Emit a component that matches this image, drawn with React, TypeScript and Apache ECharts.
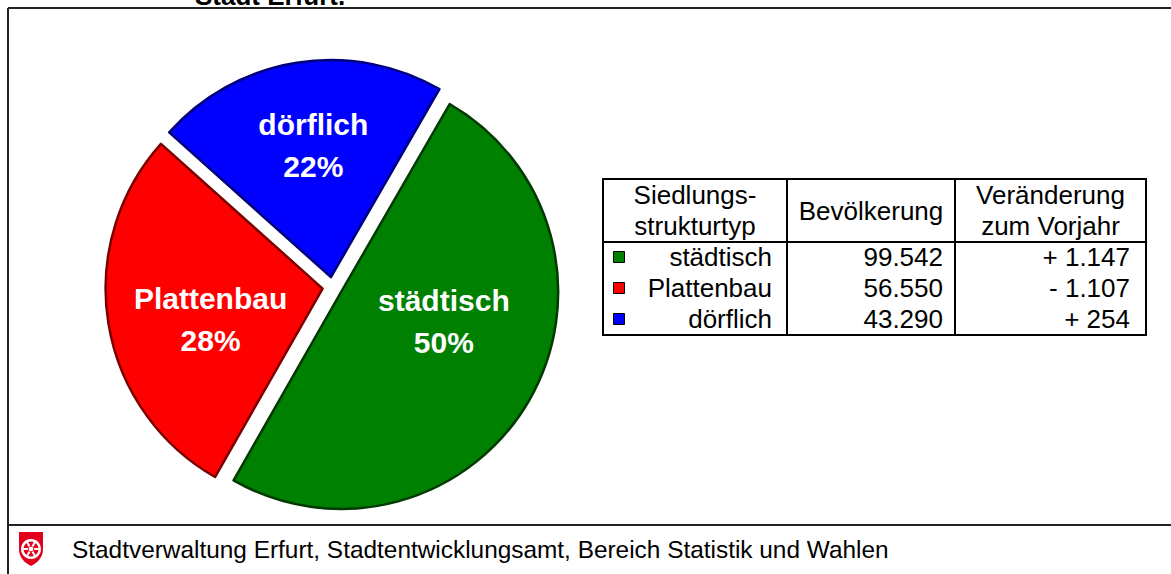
import React, { useEffect, useRef } from 'react';
import * as echarts from 'echarts';

const categories = ['städtisch', 'Plattenbau', 'dörflich'];
const population = [99542, 56550, 43290];
const changeVsPrevYear = [1147, -1107, 254];
const sliceColors = ['#008000', '#ff0000', '#0000ff'];
const borderColors = ['#003a00', '#7a0000', '#00007a'];
const labelOffsets = [[6, -26], [-2, 13], [0, -22]];
const headerCol1 = ['Siedlungs-', 'strukturtyp'];
const headerCol2 = ['Bevölkerung'];
const headerCol3 = ['Veränderung', 'zum Vorjahr'];
const titleText = 'Stadt Erfurt.';
const sourceText = 'Stadtverwaltung Erfurt, Stadtentwicklungsamt, Bereich Statistik und Wahlen';

const FONT = '"Liberation Sans", Arial, Helvetica, sans-serif';

const fmtThousands = (n: number) =>
  Math.abs(n).toString().replace(/\B(?=(\d{3})+(?!\d))/g, '.');
const fmtChange = (n: number) => (n >= 0 ? '+ ' : '- ') + fmtThousands(n);

echarts.graphic.registerShape(
  'erfurtShield',
  echarts.graphic.extendPath('M0 0 H24 V17 C24 26 18 31 12 34 C6 31 0 26 0 17 Z', {})
);

export default function App() {
  const ref = useRef<HTMLDivElement>(null);

  useEffect(() => {
    if (!ref.current) return;
    const chart = echarts.init(ref.current, undefined, { renderer: 'svg' });

    // table layout
    const colX = [603, 787, 955, 1146];
    const tTop = 179;
    const tHead = 242;
    const tBottom = 335;
    const rowY = [257, 288, 319];
    const lineColor = '#000';
    const tableFont = 26;

    const g: any[] = [];
    const txt = (text: string, x: number, y: number, align: string, size: number, weight = 'normal', fill = '#000') => ({
      type: 'text',
      x,
      y,
      silent: true,
      style: {
        text,
        fill,
        fontSize: size,
        fontWeight: weight,
        fontFamily: FONT,
        align,
        verticalAlign: 'middle',
      },
    });
    const ln = (x1: number, y1: number, x2: number, y2: number, w = 2, c = lineColor) => ({
      type: 'line',
      silent: true,
      shape: { x1, y1, x2, y2 },
      style: { stroke: c, lineWidth: w },
    });

    // frame
    g.push(ln(8, 8, 1171, 8, 2, '#222'));
    g.push(ln(8, 8, 8, 574, 2, '#222'));
    g.push(ln(8, 525, 1171, 525, 2, '#222'));

    // title (cut off at top, as in the original)
    g.push(txt(titleText, 195, -4, 'left', 26, 'bold'));

    // table borders
    g.push({
      type: 'rect',
      silent: true,
      shape: { x: colX[0], y: tTop, width: colX[3] - colX[0], height: tBottom - tTop },
      style: { fill: '#fff', stroke: lineColor, lineWidth: 2 },
    });
    g.push(ln(colX[1], tTop, colX[1], tBottom));
    g.push(ln(colX[2], tTop, colX[2], tBottom));
    g.push(ln(colX[0], tHead, colX[3], tHead));

    // headers
    const headers = [headerCol1, headerCol2, headerCol3];
    headers.forEach((lines, ci) => {
      const cx = (colX[ci] + colX[ci + 1]) / 2;
      const mid = (tTop + tHead) / 2;
      lines.forEach((l, li) => {
        const y = mid + (li - (lines.length - 1) / 2) * 31;
        g.push(txt(l, cx, y, 'center', tableFont));
      });
    });

    // rows
    categories.forEach((cat, i) => {
      const y = rowY[i];
      g.push({
        type: 'rect',
        silent: true,
        shape: { x: 613.5, y: y - 5.5, width: 11, height: 11 },
        style: { fill: sliceColors[i], stroke: '#000', lineWidth: 1 },
      });
      g.push(txt(cat, colX[1] - 15, y, 'right', tableFont));
      g.push(txt(fmtThousands(population[i]), colX[2] - 12, y, 'right', tableFont));
      g.push(txt(fmtChange(changeVsPrevYear[i]), colX[3] - 16, y, 'right', tableFont));
    });

    // footer logo
    g.push({
      type: 'erfurtShield',
      x: 19,
      y: 532,
      silent: true,
      style: { fill: '#e2001a' },
    });
    g.push({
      type: 'ring',
      silent: true,
      shape: { cx: 31, cy: 549, r: 10, r0: 7.5 },
      style: { fill: '#fff' },
    });
    for (let k = 0; k < 3; k++) {
      const a = (k * Math.PI) / 3;
      g.push(ln(31 - 8 * Math.cos(a), 549 - 8 * Math.sin(a), 31 + 8 * Math.cos(a), 549 + 8 * Math.sin(a), 2, '#fff'));
    }
    g.push({
      type: 'circle',
      silent: true,
      shape: { cx: 31, cy: 549, r: 2.8 },
      style: { fill: '#fff', stroke: '#e2001a', lineWidth: 1 },
    });
    g.push(txt(sourceText, 72, 549, 'left', 24.4));

    const data = categories.map((name, i) => ({
      name,
      value: population[i],
      selected: true,
      itemStyle: { color: sliceColors[i], borderColor: borderColors[i], borderWidth: 2.5 },
      select: { itemStyle: { color: sliceColors[i], borderColor: borderColors[i], borderWidth: 2.5 } },
    }));

    chart.setOption({
      animation: false,
      backgroundColor: '#fff',
      series: [
        {
          type: 'pie',
          center: [332.5, 287],
          radius: 217,
          startAngle: 60,
          clockwise: true,
          selectedMode: 'multiple',
          selectedOffset: 10,
          percentPrecision: 0,
          silent: true,
          avoidLabelOverlap: false,
          emphasis: { disabled: true },
          label: {
            show: true,
            position: 'inside',
            formatter: '{b}\n{d}%',
            color: '#fff',
            fontSize: 30,
            fontWeight: 'bold',
            fontFamily: FONT,
            lineHeight: 42,
            align: 'center',
          },
          labelLayout: (params: any) => ({
            dx: labelOffsets[params.dataIndex][0],
            dy: labelOffsets[params.dataIndex][1],
          }),
          labelLine: { show: false },
          data,
        },
      ],
      graphic: { elements: g },
    });

    return () => chart.dispose();
  }, []);

  return (
    <div
      ref={ref}
      style={{ position: 'fixed', left: 0, top: 0, width: 1171, height: 574, background: '#fff' }}
    />
  );
}
